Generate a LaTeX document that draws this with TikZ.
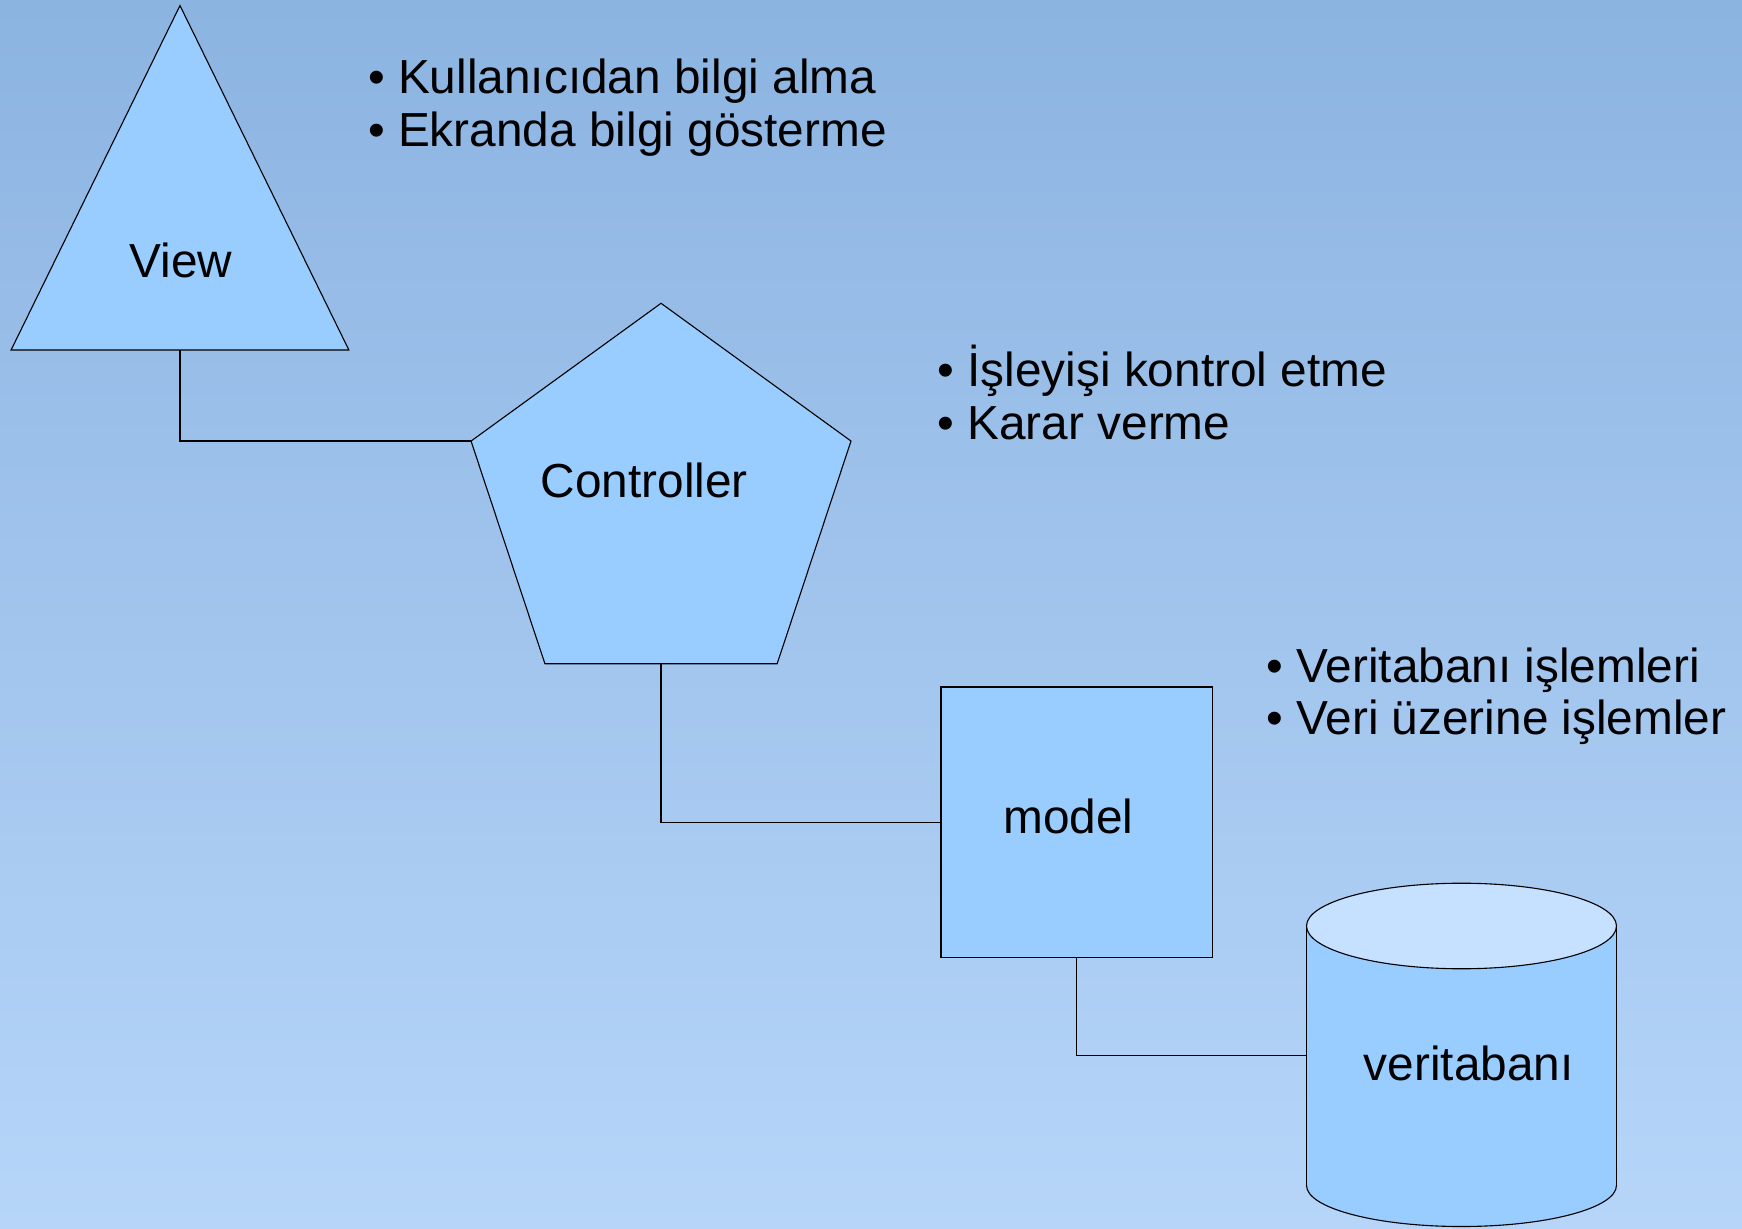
\documentclass[tikz,border=0pt]{standalone}
\usepackage{fontspec}
\setmainfont{Liberation Sans}
\definecolor{bgtop}{RGB}{140,180,225}
\definecolor{bgbot}{RGB}{182,213,249}
\definecolor{shapefill}{RGB}{153,204,255}
\definecolor{cyltop}{RGB}{197,225,255}
\tikzset{
  shp/.style={fill=shapefill, draw=black, line width=0.5pt, line join=miter},
  conn/.style={draw=black, line width=0.5pt},
  lbl/.style={anchor=base, inner sep=0pt, font=\fontsize{21.5pt}{24pt}\selectfont},
  bul/.style={anchor=base west, inner sep=0pt, font=\fontsize{21.5pt}{24pt}\selectfont},
}
\begin{document}
\begin{tikzpicture}[x=0.5pt, y=-0.5pt]
\useasboundingbox (0,0) rectangle (1568,1106);
\shade[top color=bgtop, bottom color=bgbot] (0,0) rectangle (1568,1106);

% View triangle
\coordinate (vtop) at (162,5);
\coordinate (vl) at (10,315);
\coordinate (vr) at (314,315);
\coordinate (vbot) at (162,315);
\path[shp] (vtop) -- (vr) -- (vl) -- cycle;
\node[lbl] (view) at (163,250) {View};

% Controller pentagon
\coordinate (ct) at (595,273);
\coordinate (cl) at (424,397);
\coordinate (cr) at (766,397);
\coordinate (cbl) at (490.5,597.5);
\coordinate (cbr) at (699.5,597.5);
\coordinate (cbot) at (595,597.5);
\path[shp] (ct) -- (cr) -- (cbr) -- (cbl) -- (cl) -- cycle;
\node[lbl] (ctrl) at (580,448) {Controller};

% model square
\coordinate (ml) at (847,740.5);
\coordinate (mbot) at (968.6,861.7);
\path[shp] (847,618.4) rectangle (1091,861.7);
\node[lbl] (model) at (961.6,750) {model};

% cylinder
\coordinate (dl) at (1176,949.7);
\fill[shapefill] (1176,833.5) rectangle (1455,1067);
\fill[shapefill] (1315.5,1067) ellipse [x radius=139.5, y radius=37];
\begin{scope}
  \clip (1100,1067) rectangle (1500,1120);
  \draw[conn] (1315.5,1067) ellipse [x radius=139.5, y radius=37];
\end{scope}
\draw[conn] (1176,833.5) -- (1176,1067);
\draw[conn] (1455,833.5) -- (1455,1067);
\path[shp, fill=cyltop] (1315.5,833.5) ellipse [x radius=139.5, y radius=38.5];
\node[lbl] (db) at (1322,973) {veritabanı};

% connectors
\draw[conn] (vbot) |- (cl);
\draw[conn] (cbot) |- (ml);
\draw[conn] (mbot) |- (dl);

% bullet texts
\node[bul] (b1) at (331,84) {• Kullanıcıdan bilgi alma};
\node[bul] (b2) at (331,132) {• Ekranda bilgi gösterme};
\node[bul] (b3) at (843.5,348) {• İşleyişi kontrol etme};
\node[bul] (b4) at (843.5,396) {• Karar verme};
\node[bul] (b5) at (1139.5,614) {• Veritabanı işlemleri};
\node[bul] (b6) at (1139.5,661) {• Veri üzerine işlemler};
\end{tikzpicture}
\end{document}
